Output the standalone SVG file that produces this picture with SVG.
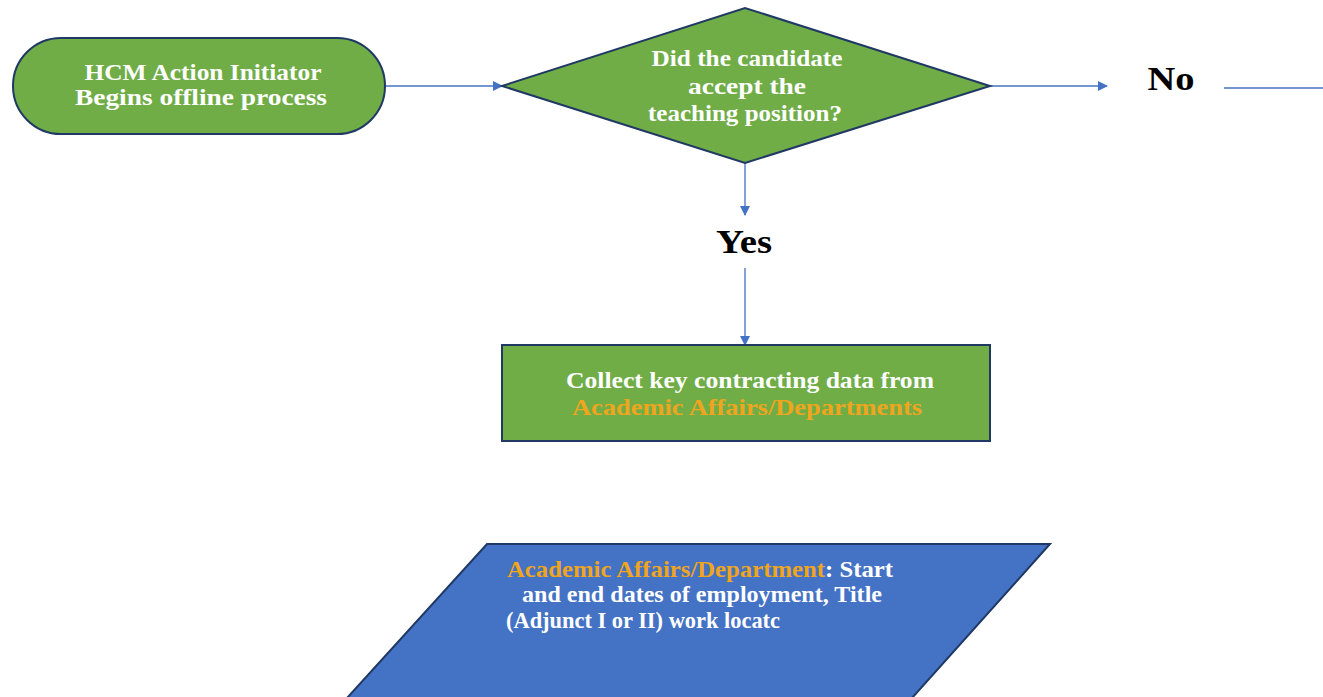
<svg xmlns="http://www.w3.org/2000/svg" width="1323" height="697" viewBox="0 0 1323 697">
<style>
.node{fill:#70AD47;stroke:#1F3864;stroke-width:2}
.io{fill:#4472C4;stroke:#1F3864;stroke-width:2}
.t{font-family:"Liberation Serif",serif;font-weight:bold;fill:#ffffff;font-size:24px;text-anchor:middle}
.lbl{font-family:"Liberation Serif",serif;font-weight:bold;fill:#000000;font-size:33px;text-anchor:middle}
.or{fill:#EFA51E}
.c{stroke:#4472C4;stroke-width:1.3;fill:none}
</style>
<defs>
<marker id="ah" markerWidth="10" markerHeight="10" refX="9" refY="5" orient="auto" markerUnits="userSpaceOnUse" viewBox="0 0 10 10">
<path d="M0,0 L10,5 L0,10 z" fill="#4472C4"/>
</marker>
</defs>
<rect width="1323" height="697" fill="#ffffff"/>
<g id="connectors">
<line class="c" x1="385" y1="86" x2="502" y2="86" marker-end="url(#ah)"/>
<line class="c" x1="990" y1="86" x2="1107" y2="86" marker-end="url(#ah)"/>
<line class="c" x1="1224" y1="88" x2="1323" y2="88"/>
<line class="c" x1="745" y1="163" x2="745" y2="215" marker-end="url(#ah)"/>
<line class="c" x1="745" y1="268" x2="745" y2="345" marker-end="url(#ah)"/>
</g>
<g id="start">
<rect class="node" x="13" y="38" width="372" height="96" rx="48" ry="48"/>
<text class="t" x="203" y="80" textLength="237" lengthAdjust="spacingAndGlyphs">HCM Action Initiator</text>
<text class="t" x="201" y="105" textLength="252" lengthAdjust="spacingAndGlyphs">Begins offline process</text>
</g>
<g id="decision">
<polygon class="node" points="502,86 745,8 990,86 745,163"/>
<text class="t" x="747" y="66" textLength="191" lengthAdjust="spacingAndGlyphs">Did the candidate</text>
<text class="t" x="747" y="94" textLength="118" lengthAdjust="spacingAndGlyphs">accept the</text>
<text class="t" x="745" y="121" textLength="194" lengthAdjust="spacingAndGlyphs">teaching position?</text>
</g>
<g id="no-label">
<text class="lbl" x="1171" y="90" textLength="47" lengthAdjust="spacingAndGlyphs">No</text>
</g>
<g id="yes-label">
<text class="lbl" x="744" y="253" textLength="56" lengthAdjust="spacingAndGlyphs">Yes</text>
</g>
<g id="collect">
<rect class="node" x="502" y="345" width="488" height="96"/>
<text class="t" x="750" y="388" textLength="368" lengthAdjust="spacingAndGlyphs">Collect key contracting data from</text>
<text class="t or" x="747" y="415" textLength="350" lengthAdjust="spacingAndGlyphs">Academic Affairs/Departments</text>
</g>
<g id="data">
<polygon class="io" points="487,544 1050,544 912,698 347,698"/>
<text class="t" x="507" y="577" style="text-anchor:start" textLength="386" lengthAdjust="spacingAndGlyphs"><tspan class="or">Academic Affairs/Department</tspan>: Start</text>
<text class="t" x="522" y="602" style="text-anchor:start" textLength="360" lengthAdjust="spacingAndGlyphs">and end dates of employment, Title</text>
<text class="t" x="506" y="628" style="text-anchor:start" textLength="274" lengthAdjust="spacingAndGlyphs">(Adjunct I or II) work locatc</text>
</g>
</svg>
